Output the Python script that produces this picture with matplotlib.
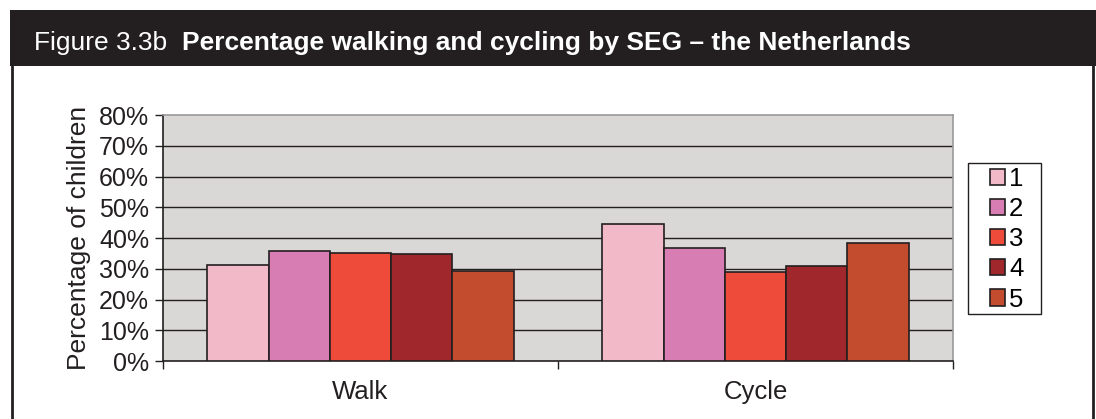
import numpy as np
import matplotlib
matplotlib.use('Agg')
import matplotlib.pyplot as plt
from matplotlib.patches import Rectangle
from matplotlib.lines import Line2D
from matplotlib.ticker import FixedLocator, PercentFormatter

plt.rcParams['font.family'] = ['Liberation Sans', 'DejaVu Sans']

# data
categories = ['Walk', 'Cycle']
groups = ['1', '2', '3', '4', '5']
seg_values = [
    [31.2, 44.6],
    [35.8, 36.9],
    [35.0, 29.0],
    [34.7, 30.8],
    [29.4, 38.3],
]
colors = ['#F2B9C9', '#D77DB3', '#EE4B3B', '#A0282D', '#C34C2E']

W, H = 1096, 419
fig = plt.figure(figsize=(W / 100, H / 100), dpi=100)

# dark header band + side frame lines
fig.patches.append(Rectangle((10 / W, 1 - 66 / H), 1086 / W, 56 / H,
                             transform=fig.transFigure, facecolor='#231F20',
                             edgecolor='none', zorder=-2))
fig.lines.append(Line2D([11.5 / W, 11.5 / W], [0, 1 - 66 / H],
                        transform=fig.transFigure, color='#231F20', lw=2))
fig.lines.append(Line2D([1093 / W, 1093 / W], [0, 1 - 66 / H],
                        transform=fig.transFigure, color='#231F20', lw=2))

t1 = fig.text(34 / W, 1 - 43 / H, 'Figure 3.3b', color='white',
              fontsize=19, va='center', ha='left')
fig.canvas.draw()
bb = t1.get_window_extent(fig.canvas.get_renderer())
fig.text((bb.x1 + 15) / W, 1 - 43 / H,
         'Percentage walking and cycling by SEG \u2013 the Netherlands',
         color='white', fontsize=19, fontweight='bold', va='center', ha='left')

ax = fig.add_axes([163 / W, 58 / H, 790 / W, 246 / H])
ax.set_facecolor('#D9D8D6')

x = np.arange(len(categories))
w = 0.155
for i, (g, vals, c) in enumerate(zip(groups, seg_values, colors)):
    ax.bar(x + (i - 2) * w, vals, width=w, color=c, edgecolor='#231F20',
           linewidth=1.2, label=g, zorder=3)

ax.set_ylim(0, 80)
ax.set_xlim(-0.5, 1.5)
ax.yaxis.set_major_locator(FixedLocator(np.arange(0, 81, 10)))
ax.yaxis.set_major_formatter(PercentFormatter(decimals=0))
for yv in range(10, 80, 10):
    ax.axhline(yv, color='#231F20', lw=1.0, zorder=1)

ax.set_xticks(x)
ax.set_xticklabels(categories)
ax.set_xticks([-0.5, 0.5, 1.5], minor=True)
ax.tick_params(axis='x', which='major', length=0, pad=14, labelsize=18.5,
               labelcolor='#231F20')
ax.tick_params(axis='x', which='minor', length=6, width=1, color='#231F20')
ax.tick_params(axis='y', length=6, width=1, color='#231F20', labelsize=18,
               labelcolor='#231F20', pad=4)

ax.spines['left'].set_color('#231F20')
ax.spines['bottom'].set_color('#231F20')
ax.spines['top'].set_color('#9A9A9A')
ax.spines['right'].set_color('#9A9A9A')
for s in ax.spines.values():
    s.set_linewidth(1.2)

ax.set_ylabel('Percentage of children', fontsize=19, color='#231F20', labelpad=6)

# legend box drawn by hand (below the axes layer), entries placed inside it
fig.patches.append(Rectangle((968 / W, 1 - 314 / H), 73 / W, 151 / H,
                             transform=fig.transFigure, facecolor='white',
                             edgecolor='#231F20', lw=1.0, zorder=-1))
leg = ax.legend(loc='upper left', bbox_to_anchor=(986 / W, 1 - 163 / H),
                bbox_transform=fig.transFigure, fontsize=18.5, frameon=False,
                handlelength=0.6, handleheight=0.6, handletextpad=0.15,
                labelspacing=0.24, borderpad=0.15, borderaxespad=0)
for p in leg.get_patches():
    p.set_linewidth(1.2)

fig.savefig('out.png', dpi=100)
